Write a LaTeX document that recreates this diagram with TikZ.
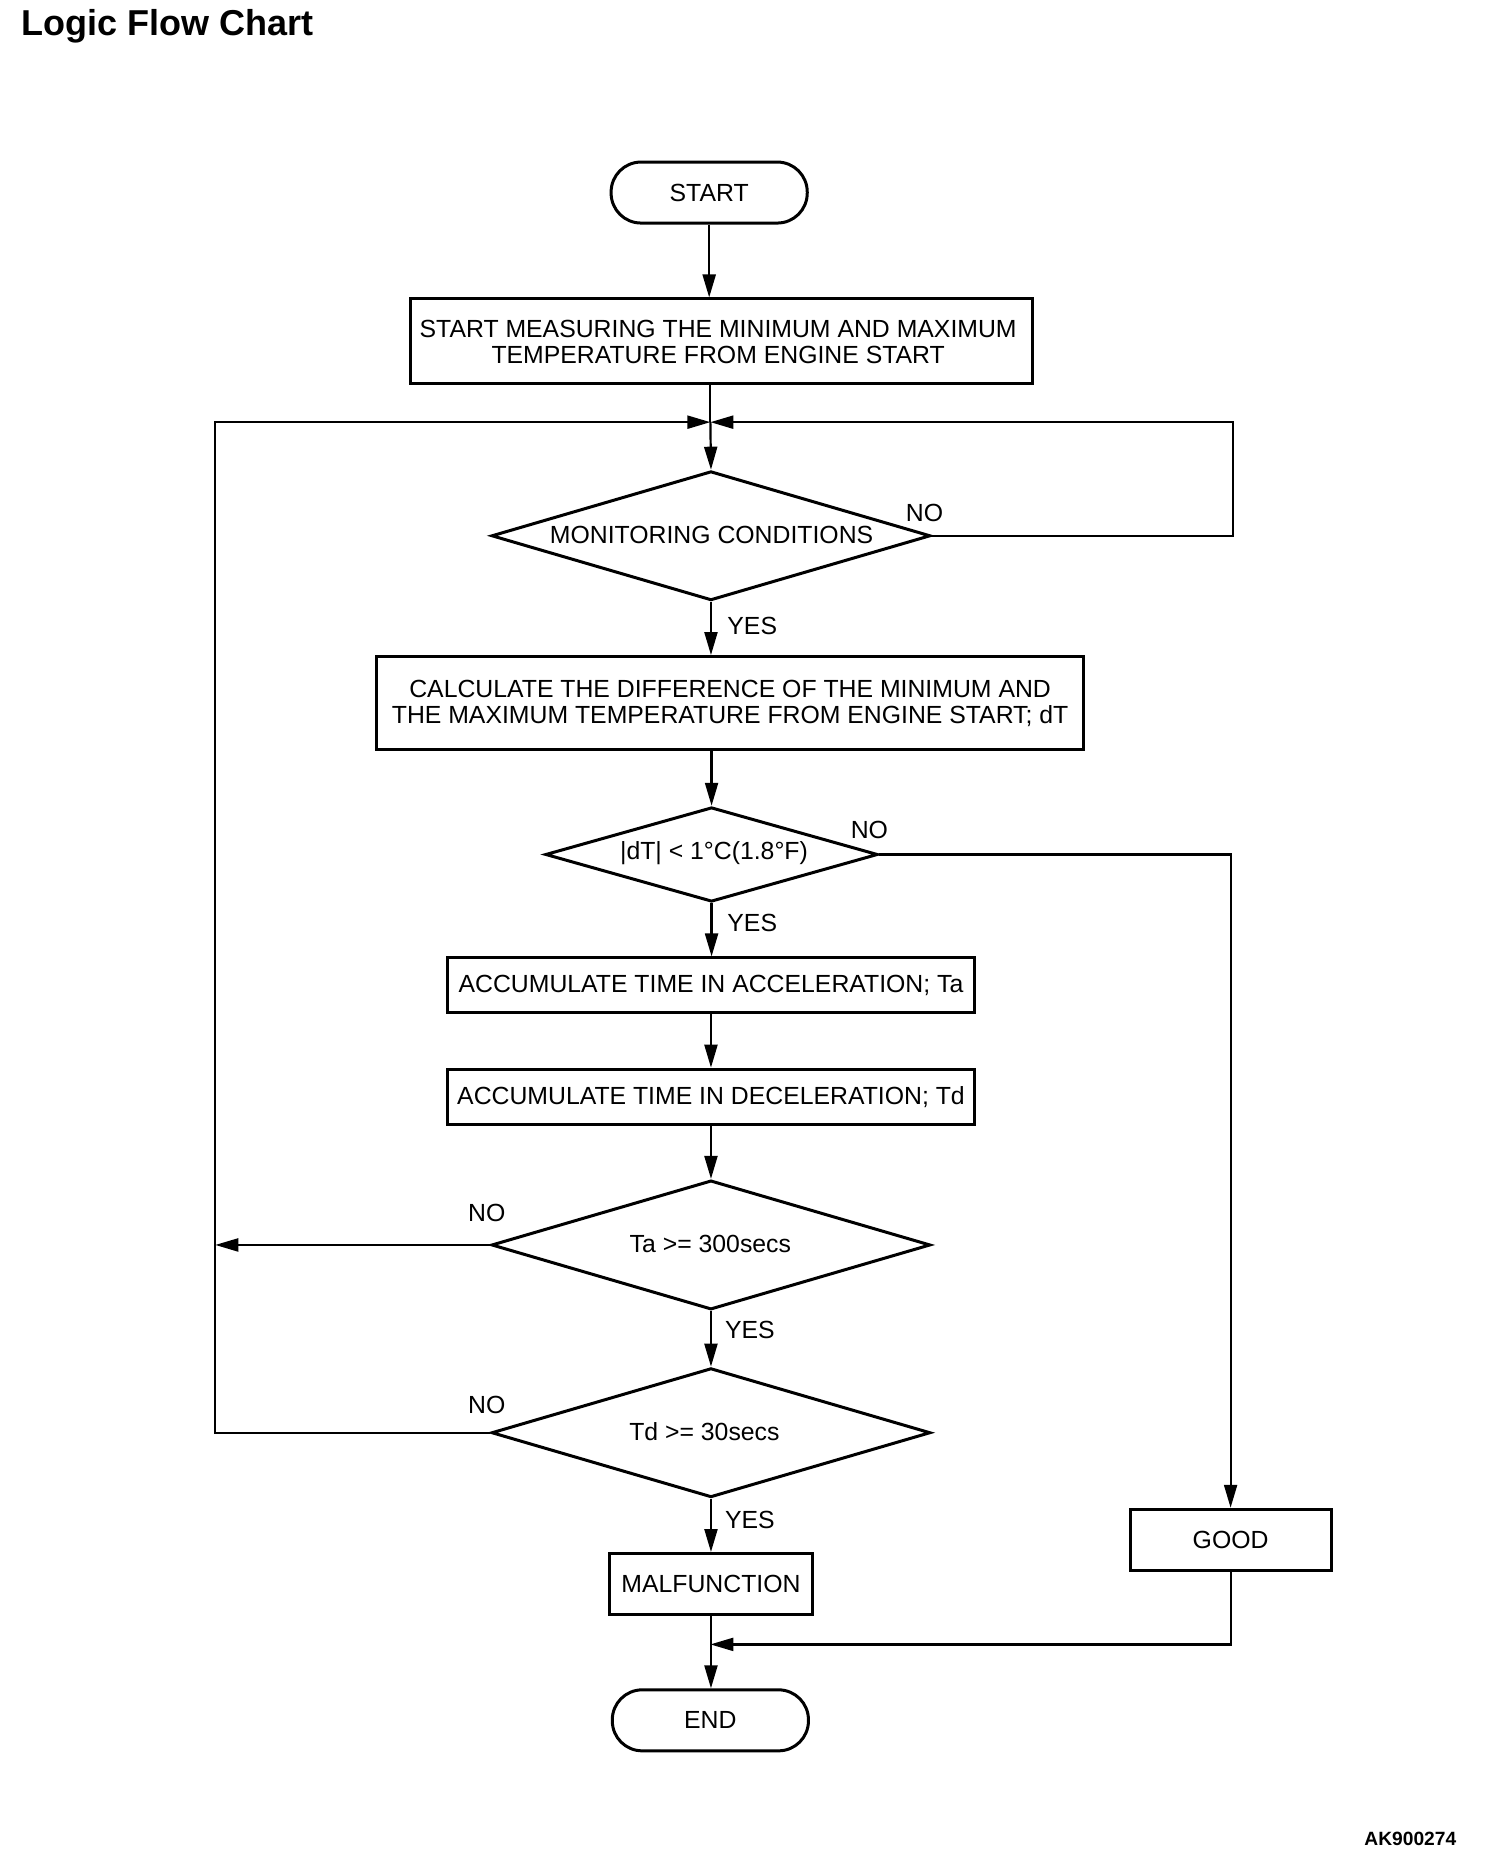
\documentclass[tikz,border=0pt]{standalone}
\usepackage{fontspec}
\setmainfont{Liberation Sans}
\usetikzlibrary{shapes.geometric,arrows.meta}
\def\U{0.598pt}
\tikzset{
  shp/.style={draw, line width=1.5pt, inner sep=0pt, align=center, font=\fontsize{12.4}{12.9}\selectfont},
  term/.style={shp, rounded corners=25*\U, minimum width=164*\U, minimum height=51*\U},
  proc/.style={shp, rectangle},
  dia/.style={draw, line width=1.5pt, diamond, inner sep=0pt},
  txt/.style={inner sep=0pt, font=\fontsize{12.4}{12.9}\selectfont},
  lbl/.style={inner sep=0pt, font=\fontsize{12.4}{12.9}\selectfont},
  conn/.style={line width=1.1pt},
  arr/.style={conn, -{Triangle[length=11.5pt,width=6.5pt]}},
}
\begin{document}
\begin{tikzpicture}[x=\U, y=-\U]
\useasboundingbox (0,0) rectangle (1257.5,1567);
\node[anchor=base west, inner sep=0pt, font=\fontsize{18}{20}\selectfont\bfseries] (title) at (18,30) {Logic Flow Chart};
\node[anchor=base east, inner sep=0pt, font=\fontsize{9.6}{11}\selectfont\bfseries] (code) at (1218,1543) {AK900274};

\node[term] (start) at (593,161) {START};
\node[proc, minimum width=520*\U, minimum height=71*\U] (box1) at (603,285.5) {};
\node[txt, align=center] (box1t) at (600.5,286) {START MEASURING THE MINIMUM AND MAXIMUM\\TEMPERATURE FROM ENGINE START};
\coordinate (j1) at (594,353);
\node[dia, minimum width=367*\U, minimum height=108*\U] (d1) at (594.5,448) {};
\node[txt] (d1t) at (595,447) {MONITORING CONDITIONS};
\node[proc, minimum width=591*\U, minimum height=78*\U] (box2) at (610.5,588) {CALCULATE THE DIFFERENCE OF THE MINIMUM AND\\THE MAXIMUM TEMPERATURE FROM ENGINE START; dT};
\node[dia, minimum width=278*\U, minimum height=79*\U] (d2) at (595,714.5) {};
\node[txt] (d2t) at (597,713) {|dT| < 1°C(1.8°F)};
\node[proc, minimum width=441*\U, minimum height=46*\U] (box3) at (594.5,824) {ACCUMULATE TIME IN ACCELERATION; Ta};
\node[proc, minimum width=441*\U, minimum height=46*\U] (box4) at (594.5,917) {ACCUMULATE TIME IN DECELERATION; Td};
\node[dia, minimum width=367*\U, minimum height=108*\U] (d3) at (594.5,1041) {};
\node[txt] (d3t) at (594,1040) {Ta >= 300secs};
\node[dia, minimum width=367*\U, minimum height=108*\U] (d4) at (594.5,1198) {};
\node[txt] (d4t) at (589,1197) {Td >= 30secs};
\node[proc, minimum width=169*\U, minimum height=51*\U] (mal) at (594.5,1324.5) {MALFUNCTION};
\node[proc, minimum width=168*\U, minimum height=51*\U] (good) at (1029,1287.5) {GOOD};
\node[term] (end) at (594,1438.5) {END};
\coordinate (r1) at (1031,353);
\coordinate (l1) at (180,353);
\coordinate (j2) at (594,1375);

% labels
\node[lbl] (n1) at (773,429) {NO};
\node[lbl] (y1) at (629,523) {YES};
\node[lbl] (n2) at (727,694) {NO};
\node[lbl] (y2) at (629,772) {YES};
\node[lbl] (n3) at (407,1014) {NO};
\node[lbl] (y3) at (627,1112) {YES};
\node[lbl] (n4) at (407,1175) {NO};
\node[lbl] (y4) at (627,1271) {YES};

% connectors
\draw[arr] (start.south) -- (start.south |- box1.north);
\draw[conn] (box1.south -| j1) -- (j1);
\draw[arr] (j1) -- (d1.north);
\draw[arr] (d1.east) -| (r1) -- (j1);
\draw[arr] (d4.west) -| (l1) -- (j1);
\draw[arr] (d1.south) -- (d1.south |- box2.north);
\draw[arr] (box2.south -| d2.north) -- (d2.north);
\draw[arr] (d2.south) -- (d2.south |- box3.north);
\draw[arr] (d2.east) -| (good.north);
\draw[arr] (box3.south) -- (box4.north);
\draw[arr] (box4.south) -- (d3.north);
\draw[arr] (d3.west) -- (d3.west -| l1);
\draw[arr] (d3.south) -- (d4.north);
\draw[arr] (d4.south) -- (mal.north);
\draw[arr] (mal.south) -- (mal.south |- end.north);
\draw[arr] (good.south) |- (j2);
\end{tikzpicture}
\end{document}
